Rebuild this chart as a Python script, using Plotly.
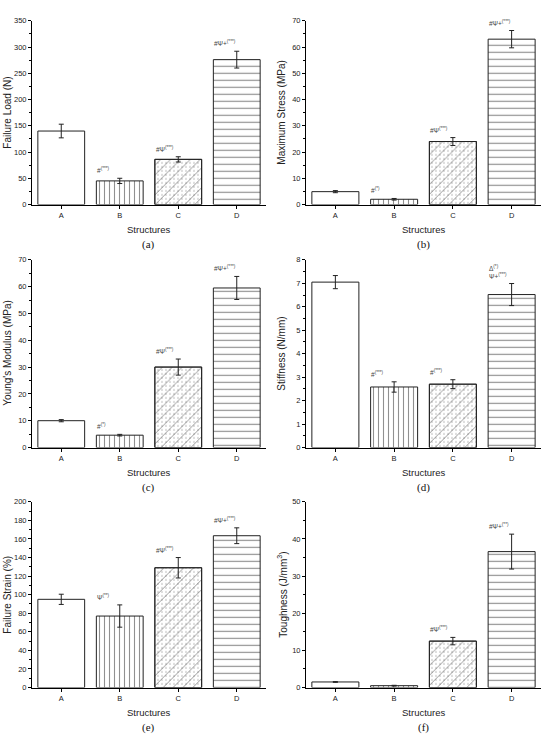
import plotly.graph_objects as go

cats = ["A", "B", "C", "D"]

load = [140, 45, 86, 276]
load_err = [13, 5, 5, 16]
stress = [4.9, 2.0, 24.0, 63.0]
stress_err = [0.4, 0.3, 1.5, 3.3]
young = [10.0, 4.6, 30.0, 59.5]
young_err = [0.4, 0.3, 3.0, 4.3]
stiff = [7.05, 2.58, 2.70, 6.52]
stiff_err = [0.28, 0.22, 0.19, 0.47]
strain = [95, 77, 129, 163.5]
strain_err = [5.5, 12, 11, 8.5]
tough = [1.5, 0.5, 12.5, 36.6]
tough_err = [0.1, 0.1, 1.0, 4.7]

panels = [
    dict(vals=load, err=load_err, title="Failure Load (N)", rng=350, dt=50, lab="(a)",
         ann=["", "#<sup>(***)</sup>", "#Ψ<sup>(***)</sup>", "#Ψ+<sup>(***)</sup>"]),
    dict(vals=stress, err=stress_err, title="Maximum Stress (MPa)", rng=70, dt=10, lab="(b)",
         ann=["", "#<sup>(*)</sup>", "#Ψ<sup>(***)</sup>", "#Ψ+<sup>(***)</sup>"]),
    dict(vals=young, err=young_err, title="Young's Modulus (MPa)", rng=70, dt=10, lab="(c)",
         ann=["", "#<sup>(*)</sup>", "#Ψ<sup>(***)</sup>", "#Ψ+<sup>(***)</sup>"]),
    dict(vals=stiff, err=stiff_err, title="Stiffness (N/mm)", rng=8, dt=1, lab="(d)",
         ann=["", "#<sup>(***)</sup>", "#<sup>(***)</sup>", "Δ<sup>(*)</sup><br>Ψ+<sup>(***)</sup>"]),
    dict(vals=strain, err=strain_err, title="Failure Strain (%)", rng=200, dt=20, lab="(e)",
         ann=["", "Ψ<sup>(**)</sup>", "#Ψ<sup>(***)</sup>", "#Ψ+<sup>(***)</sup>"]),
    dict(vals=tough, err=tough_err, title="Toughness (J/mm<sup>3</sup>)", rng=50, dt=10, lab="(f)",
         ann=["", "", "#Ψ<sup>(***)</sup>", "#Ψ+<sup>(**)</sup>"]),
]

W, H = 547, 736
xdom_px = [(32, 266), (306, 541)]
ydom_px = [(17, 203), (259, 449), (504, 692)]


def px_x(p):
    return p / W


def px_y(p):
    return 1 - p / H


fig = go.Figure()
shapes_cfg = [("", 6, 0.1), ("|", 5, 0.22), ("/", 7, 0.14), ("-", 7, 0.17)]

for i, p in enumerate(panels):
    r, c = divmod(i, 2)
    n = i + 1
    xa = "x" if n == 1 else f"x{n}"
    ya = "y" if n == 1 else f"y{n}"
    x0, x1 = xdom_px[c]
    t0, t1 = ydom_px[r]
    xd = [px_x(x0), px_x(x1)]
    yd = [px_y(t1), px_y(t0)]
    fig.add_trace(go.Bar(
        x=[cats[2]], y=[p["vals"][2]], xaxis=xa, yaxis=ya, width=0.8,
        marker=dict(color="white", line=dict(color="#333", width=1),
                    pattern=dict(shape=".", size=4, solidity=0.15, fgcolor="#777", bgcolor="white")),
        showlegend=False, hoverinfo="skip"))
    for k in range(4):
        shp, sz, sol = shapes_cfg[k]
        if k == 2:
            pat = dict(shape="/", size=sz, solidity=sol, fgcolor="#333", fillmode="overlay")
            col = "rgba(0,0,0,0)"
        else:
            pat = dict(shape=shp, size=sz, solidity=sol, fgcolor="#222", bgcolor="white")
            col = "white"
        fig.add_trace(go.Bar(
            x=[cats[k]], y=[p["vals"][k]], xaxis=xa, yaxis=ya, width=0.8,
            marker=dict(color=col, line=dict(color="#222", width=1), pattern=pat),
            error_y=dict(type="data", array=[p["err"][k]], color="#222", thickness=1, width=2.5),
            showlegend=False, hoverinfo="skip"))
    ax_common = dict(showline=True, linecolor="black", linewidth=1, ticks="outside",
                     ticklen=3, tickcolor="black",
                     tickfont=dict(family="Liberation Sans", size=7.5, color="#222"),
                     showgrid=False, zeroline=False)
    fig.layout[("xaxis" if n == 1 else f"xaxis{n}")] = dict(
        domain=xd, anchor=ya, range=[-0.5, 3.5], categoryorder="array", categoryarray=cats,
        **ax_common)
    fig.layout[("yaxis" if n == 1 else f"yaxis{n}")] = dict(
        domain=yd, anchor=xa, range=[0, p["rng"]], dtick=p["dt"], tick0=0,
        minor=dict(ticks="outside", ticklen=2, tickcolor="black", dtick=p["dt"] / 2),
        **ax_common)
    fig.add_annotation(xref="paper", yref="paper", x=px_x(x0 - 24), y=px_y((t0 + t1) / 2),
                       xanchor="center", yanchor="middle",
                       text=p["title"], textangle=-90, showarrow=False,
                       font=dict(family="Liberation Sans", size=10, color="#222"))
    fig.add_annotation(xref="paper", yref="paper", x=px_x((x0 + x1) / 2), y=px_y(t1 + 25),
                       xanchor="center", yanchor="middle",
                       text="Structures", showarrow=False,
                       font=dict(family="Liberation Sans", size=9.5, color="#222"))
    fig.add_annotation(xref="paper", yref="paper", x=px_x((x0 + x1) / 2), y=px_y(t1 + 40),
                       xanchor="center", yanchor="middle",
                       text=p["lab"], showarrow=False,
                       font=dict(family="Liberation Serif", size=11, color="#111"))
    for k in range(4):
        if p["ann"][k]:
            fig.add_annotation(xref=xa, yref=ya, x=k - 0.42, y=p["vals"][k] + p["err"][k],
                               text=p["ann"][k], showarrow=False, xanchor="left", yanchor="bottom",
                               yshift=2, align="left",
                               font=dict(family="Liberation Sans", size=6.5, color="#444"))

fig.update_layout(width=W, height=H, margin=dict(l=0, r=0, t=0, b=0),
                  paper_bgcolor="white", plot_bgcolor="white", barmode="overlay",
                  bargap=0.2, hovermode=False)
fig.write_html("out.html", config={"displayModeBar": False, "staticPlot": True},
               post_script="document.body.style.margin='0';document.body.style.overflow='hidden';")
